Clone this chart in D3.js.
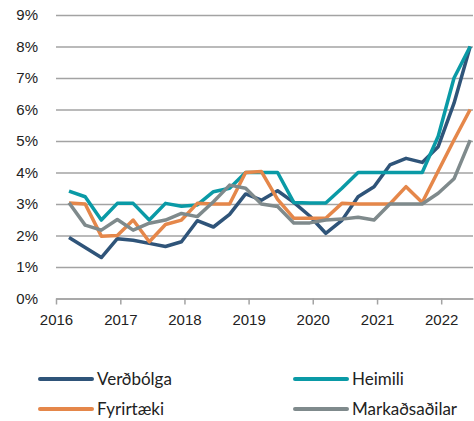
<!DOCTYPE html>
<html>
<head>
<meta charset="utf-8">
<script src="https://cdn.jsdelivr.net/npm/d3@7"></script>
<style>
	body { margin: 0; background: #fff; }
	svg { font-family: Lato, "Open Sans", sans-serif; }
	.grid line { stroke: #a3a3a3; stroke-width: 1.5; }
	.tick text { fill: #222; font-size: 15px; }
	.series { fill: none; stroke-width: 3.5; stroke-linejoin: round; }
	.legend text { fill: #222; font-size: 17px; }
</style>
</head>
<body>
<svg class="chart" width="474" height="421"></svg>
<script>
const quarters = ["2016-03-15", "2016-06-15", "2016-09-15", "2016-12-15",
	"2017-03-15", "2017-06-15", "2017-09-15", "2017-12-15",
	"2018-03-15", "2018-06-15", "2018-09-15", "2018-12-15",
	"2019-03-15", "2019-06-15", "2019-09-15", "2019-12-15",
	"2020-03-15", "2020-06-15", "2020-09-15", "2020-12-15",
	"2021-03-15", "2021-06-15", "2021-09-15", "2021-12-15",
	"2022-03-15", "2022-06-15"]

const verdbolga = [1.94, 1.62, 1.30, 1.90, 1.85, 1.75, 1.65, 1.80, 2.47, 2.27, 2.67, 3.32, 3.12,
	3.42, 3.05, 2.62, 2.07, 2.48, 3.23, 3.55, 4.24, 4.45, 4.32, 4.82, 6.20, 8.00]
const heimili = [3.41, 3.23, 2.49, 3.02, 3.02, 2.49, 3.02, 2.93, 2.97, 3.39, 3.50, 4.00, 4.00,
	4.00, 3.05, 3.03, 3.03, 3.50, 4.00, 4.00, 4.00, 4.00, 4.00, 5.15, 7.00, 8.00]
const fyrirtaeki = [3.03, 3.00, 1.98, 2.00, 2.49, 1.80, 2.35, 2.49, 3.02, 3.00, 3.00, 4.00, 4.03,
	3.15, 2.55, 2.55, 2.55, 3.02, 3.00, 3.00, 3.00, 3.55, 3.05, 4.05, 5.03, 6.00]
const markadsadilar = [3.04, 2.33, 2.17, 2.51, 2.17, 2.39, 2.49, 2.70, 2.60, 3.07, 3.60, 3.50, 3.00,
	2.92, 2.40, 2.40, 2.49, 2.52, 2.58, 2.49, 3.00, 3.00, 3.00, 3.34, 3.80, 5.03]

const seriesNames = ["Verðbólga", "Heimili", "Fyrirtæki", "Markaðsaðilar"]
const seriesValues = [verdbolga, heimili, fyrirtaeki, markadsadilar]
const seriesColors = ["#2f5479", "#0a9aa6", "#e5874a", "#7f8a8c"]

const yTicks = [0, 1, 2, 3, 4, 5, 6, 7, 8, 9]
const xTicks = ["2016", "2017", "2018", "2019", "2020", "2021", "2022"]

const parseDate = d3.timeParse("%Y-%m-%d")
const parseYear = d3.timeParse("%Y")

const svg = d3.select("svg.chart")

const x = d3.scaleTime()
	.domain([parseDate("2016-01-01"), parseDate("2022-07-01")])
	.range([56, 473])

const y = d3.scaleLinear()
	.domain([0, 9])
	.range([298.5, 15])

// horizontal gridlines + % labels
svg.append("g")
	.attr("class", "grid")
	.attr("transform", "translate(56, 0)")
	.call(d3.axisLeft(y)
		.tickValues(yTicks)
		.tickSize(-417)
		.tickPadding(18)
		.tickFormat(d => d + "%"))
	.call(g => g.select(".domain").remove())

// x axis with year ticks
svg.append("g")
	.attr("class", "grid")
	.attr("transform", "translate(0, 298.5)")
	.call(d3.axisBottom(x)
		.tickValues(xTicks.map(parseYear))
		.tickSize(6)
		.tickSizeOuter(0)
		.tickPadding(10)
		.tickFormat(d3.timeFormat("%Y")))
	.call(g => g.select(".domain").attr("stroke", "#a3a3a3").attr("stroke-width", 1.5))

const line = d3.line()
	.x((d, i) => x(parseDate(quarters[i])))
	.y(d => y(d))

svg.selectAll("path.series")
	.data(seriesValues)
	.enter()
	.append("path")
	.attr("class", "series")
	.attr("stroke", (d, i) => seriesColors[i])
	.attr("d", line)

const legend = svg.selectAll("g.legend")
	.data(seriesNames)
	.enter()
	.append("g")
	.attr("class", "legend")
	.attr("transform", (d, i) => {
		const lx = (i % 2) * 255 + 40
		const ly = Math.floor(i / 2) * 30 + 379
		return `translate(${lx}, ${ly})`
	})

legend.append("line")
	.attr("x1", 0)
	.attr("x2", 52)
	.attr("stroke", (d, i) => seriesColors[i])
	.attr("stroke-width", 4)
	.attr("stroke-linecap", "round")

legend.append("text")
	.attr("x", 57)
	.attr("dy", "0.35em")
	.text(d => d)
</script>
</body>
</html>
